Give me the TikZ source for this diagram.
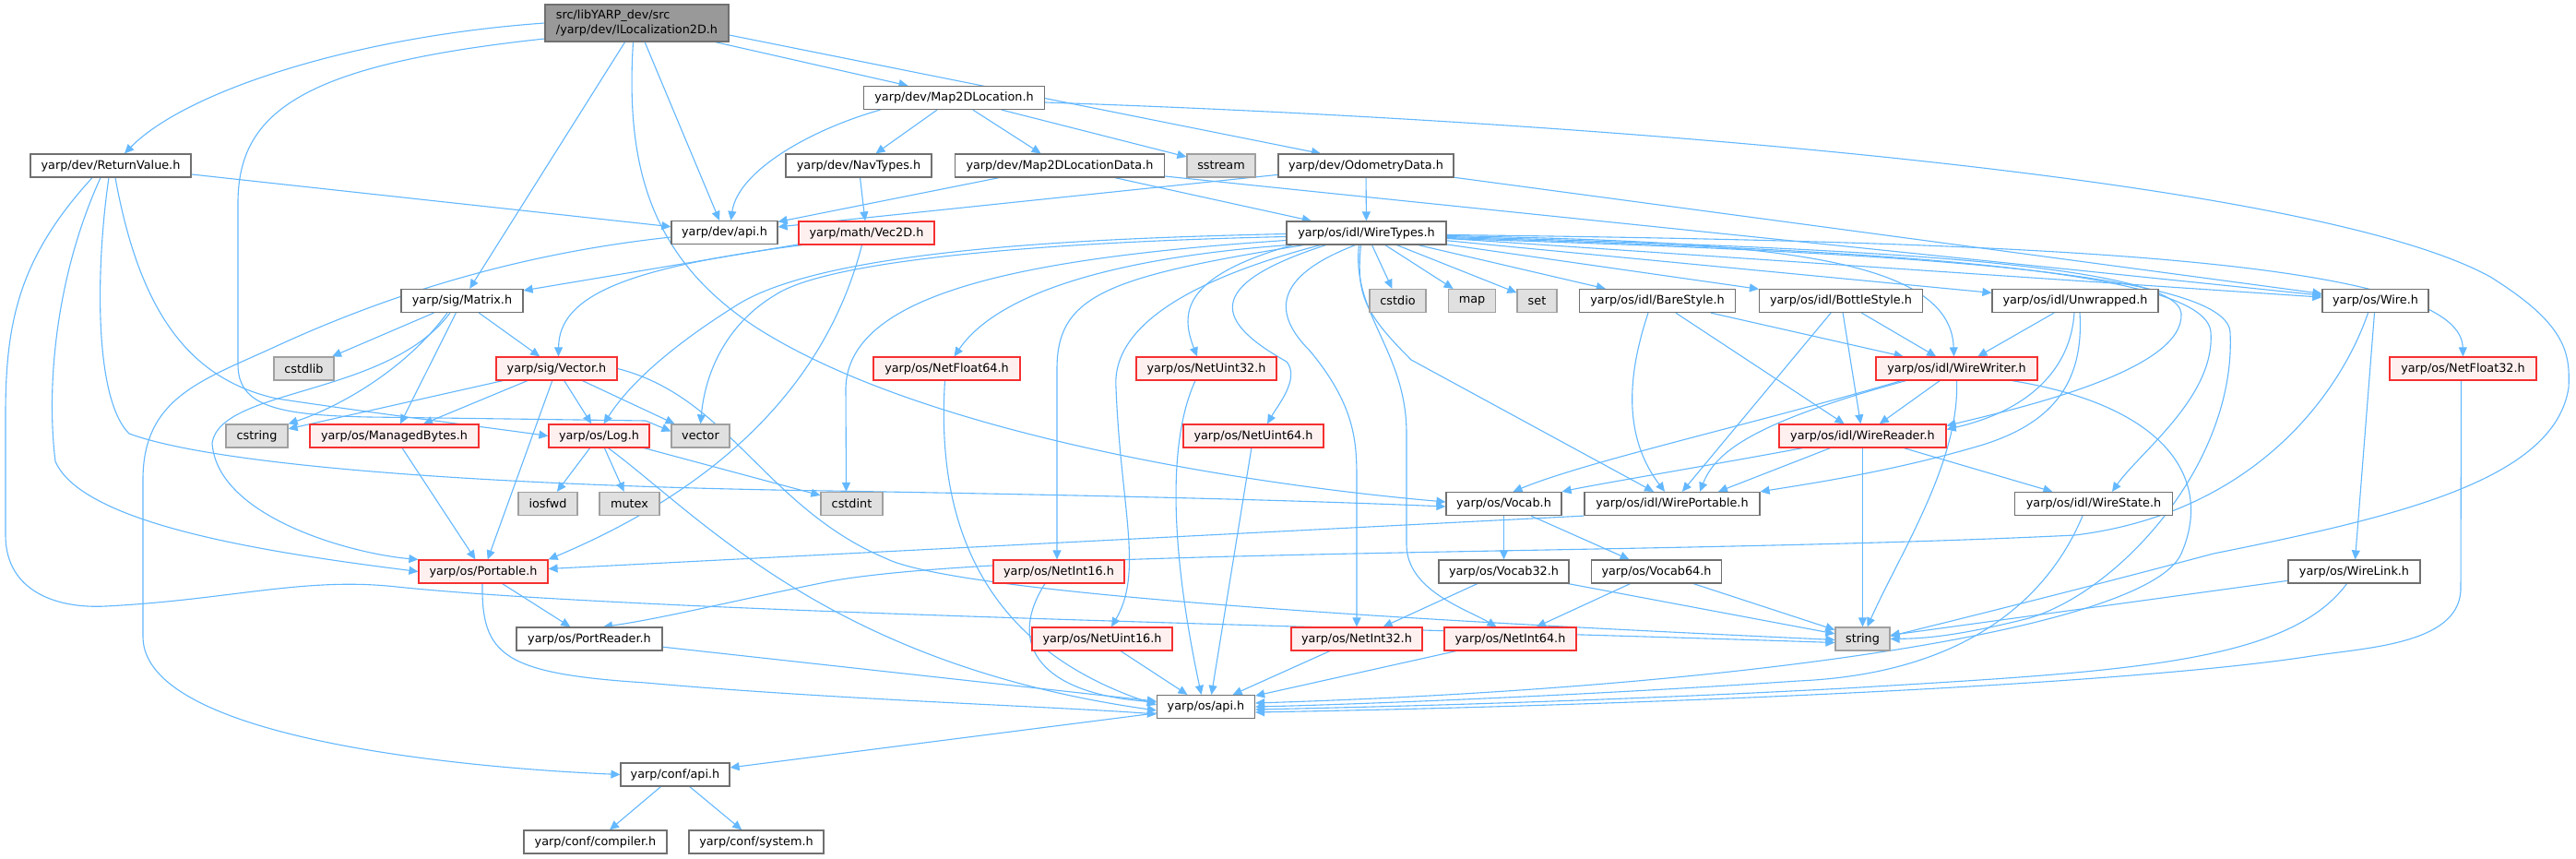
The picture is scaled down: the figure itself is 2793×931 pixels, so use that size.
\documentclass[tikz,border=0pt]{standalone}
\usepackage{fontspec}
\setmainfont{DejaVu Sans}
\usetikzlibrary{arrows.meta,calc}
\definecolor{edgec}{HTML}{63B8FF}
\definecolor{boxborder}{HTML}{707070}
\definecolor{redborder}{HTML}{F53030}
\definecolor{redfill}{HTML}{FFF0F0}
\definecolor{greyborder}{HTML}{A0A0A0}
\definecolor{greyfill}{HTML}{E0E0E0}
\definecolor{topfill}{HTML}{999999}
\pgfdeclarelayer{bg}
\pgfdeclarelayer{paper}
\pgfsetlayers{paper,bg,main}
\tikzset{
  box/.style={draw=boxborder, fill=white, line width=1.2pt, minimum height=25pt, inner sep=0pt, text=black},
  redbox/.style={box, draw=redborder, fill=redfill},
  greybox/.style={box, draw=greyborder, fill=greyfill},
  topbox/.style={box, draw=boxborder, fill=topfill},
  edg/.style={draw=edgec, line width=1.1pt, -{Triangle[length=10pt,width=9pt]}},
}
\begin{document}
\begin{tikzpicture}[x=1pt,y=-1pt, every node/.style={font=\fontsize{12.8}{16}\selectfont}]
\begin{pgfonlayer}{paper}
\fill[white] (0,0) rectangle (2793,931);
\end{pgfonlayer}
\useasboundingbox (0,0) rectangle (2793,931);

% ---------------- nodes ----------------
\node[topbox, minimum width=199pt, minimum height=40pt, align=left] (ntop) at (690.5,25) {src/libYARP\_dev/src\\/yarp/dev/ILocalization2D.h};
\node[box, minimum width=174pt] (nretval) at (120,179.5) {yarp/dev/ReturnValue.h};
\node[box, minimum width=115pt] (ndevapi) at (785.5,252) {yarp/dev/api.h};
\node[box, minimum width=196pt] (nm2dloc) at (1034.5,106) {yarp/dev/Map2DLocation.h};
\node[box, minimum width=158pt] (nnav) at (931,179.5) {yarp/dev/NavTypes.h};
\node[box, minimum width=227pt] (nm2dlocdata) at (1149,179.5) {yarp/dev/Map2DLocationData.h};
\node[greybox, minimum width=74pt] (nsstream) at (1324,179.5) {sstream};
\node[box, minimum width=190pt] (nodom) at (1481,179.5) {yarp/dev/OdometryData.h};
\node[redbox, minimum width=147pt] (nvec) at (939.5,252.5) {yarp/math/Vec2D.h};
\node[box, minimum width=173pt] (nwt) at (1481.5,252.5) {yarp/os/idl/WireTypes.h};
\node[box, minimum width=132pt] (nmatrix) at (501,326) {yarp/sig/Matrix.h};
\node[greybox, minimum width=65pt] (ncstdlib) at (329.5,399.5) {cstdlib};
\node[redbox, minimum width=131pt] (nvector_h) at (603.5,399.5) {yarp/sig/Vector.h};
\node[greybox, minimum width=67pt] (ncstring) at (278.5,472.5) {cstring};
\node[redbox, minimum width=183pt] (nmanaged) at (427.5,472.5) {yarp/os/ManagedBytes.h};
\node[redbox, minimum width=109pt] (nlog) at (649.5,472.5) {yarp/os/Log.h};
\node[greybox, minimum width=63pt] (nvector) at (759.5,472.5) {vector};
\node[greybox, minimum width=64pt] (niosfwd) at (594,546) {iosfwd};
\node[greybox, minimum width=65pt] (nmutex) at (682.5,546) {mutex};
\node[greybox, minimum width=67pt] (ncstdint) at (923.5,546) {cstdint};
\node[redbox, minimum width=140pt] (nportable) at (524,619.5) {yarp/os/Portable.h};
\node[box, minimum width=158pt] (nportreader) at (639,692.5) {yarp/os/PortReader.h};
\node[box, minimum width=118pt] (nconfapi) at (732,839.5) {yarp/conf/api.h};
\node[box, minimum width=155pt] (ncompiler) at (645.5,912.5) {yarp/conf/compiler.h};
\node[box, minimum width=146pt] (nsystem) at (820,912.5) {yarp/conf/system.h};
\node[greybox, minimum width=61pt] (ncstdio) at (1515.5,326) {cstdio};
\node[greybox, minimum width=51pt] (nmap) at (1596,326) {map};
\node[greybox, minimum width=43pt] (nset) at (1666.5,326) {set};
\node[box, minimum width=169pt] (nbare) at (1797,326) {yarp/os/idl/BareStyle.h};
\node[box, minimum width=177pt] (nbottle) at (1996,326) {yarp/os/idl/BottleStyle.h};
\node[box, minimum width=180pt] (nunwrapped) at (2250,326) {yarp/os/idl/Unwrapped.h};
\node[box, minimum width=115pt] (nwire) at (2575.5,326) {yarp/os/Wire.h};
\node[redbox, minimum width=175pt] (nwirewriter) at (2121.5,399.5) {yarp/os/idl/WireWriter.h};
\node[redbox, minimum width=159pt] (nnf32) at (2670.5,399.5) {yarp/os/NetFloat32.h};
\node[redbox, minimum width=181pt] (nwirereader) at (2019.5,472.5) {yarp/os/idl/WireReader.h};
\node[box, minimum width=171pt] (nwirestate) at (2270,546) {yarp/os/idl/WireState.h};
\node[box, minimum width=143pt] (nwirelink) at (2552.5,619.5) {yarp/os/WireLink.h};
\node[greybox, minimum width=59pt] (nstring) at (2019.5,692.5) {string};
\node[redbox, minimum width=159pt] (nnf64) at (1026.5,399.5) {yarp/os/NetFloat64.h};
\node[redbox, minimum width=152pt] (nnetuint32) at (1308,399.5) {yarp/os/NetUint32.h};
\node[redbox, minimum width=152pt] (nnetuint64) at (1359,472.5) {yarp/os/NetUint64.h};
\node[box, minimum width=125pt] (nvocab) at (1630.5,546) {yarp/os/Vocab.h};
\node[box, minimum width=190pt] (nwireportable) at (1813,546) {yarp/os/idl/WirePortable.h};
\node[redbox, minimum width=142pt] (nnetint16) at (1148,619.5) {yarp/os/NetInt16.h};
\node[box, minimum width=141pt] (nvocab32) at (1630.5,619.5) {yarp/os/Vocab32.h};
\node[box, minimum width=141pt] (nvocab64) at (1796,619.5) {yarp/os/Vocab64.h};
\node[redbox, minimum width=152pt] (nnetuint16) at (1195,692.5) {yarp/os/NetUint16.h};
\node[redbox, minimum width=142pt] (nnetint32) at (1471,692.5) {yarp/os/NetInt32.h};
\node[redbox, minimum width=143pt] (nnetint64) at (1637.5,692.5) {yarp/os/NetInt64.h};
\node[box, minimum width=106pt] (nosapi) at (1307.5,766) {yarp/os/api.h};

% ---------------- edges ----------------
\begin{pgfonlayer}{bg}
% ILocalization2D
\draw[edg] (ntop.west) .. controls (380,40) and (200,100) .. ([xshift=15pt]nretval.north);
\draw[edg] ([yshift=-17pt]ntop.west) .. controls (330,70) and (258,120) .. (258,220) -- (258,395) .. controls (258,440) and (300,450) .. (400,452) -- (700,456) -- ([yshift=5pt]nvector.west);
\draw[edg] (ntop) -- (nmatrix);
\draw[edg] ([xshift=-4pt]ntop.south) .. controls (678,180) and (705,280) .. (820,355) .. controls (1000,470) and (1350,525) .. ([yshift=2pt]nvocab.west);
\draw[edg] (ntop) -- (ndevapi);
\draw[edg] ([xshift=-15pt]ntop.south east) -- ([xshift=-50pt]nm2dloc.north);
\draw[edg] ([yshift=-13pt]ntop.east) -- ([xshift=-49pt]nodom.north);

% ReturnValue
\draw[edg] (nretval) -- (ndevapi);
\draw[edg] ([xshift=5pt]nretval.south) .. controls (150,330) and (200,410) .. (300,432) .. controls (420,450) and (520,462) .. (nlog.west);
\draw[edg] ([xshift=-2pt]nretval.south) .. controls (105,280) and (100,430) .. (140,470) .. controls (250,510) and (600,528) .. (900,532) .. controls (1200,537) and (1400,542) .. ([yshift=-3pt]nvocab.west);
\draw[edg] ([xshift=-11pt]nretval.south) .. controls (60,300) and (50,420) .. (60,500) .. controls (90,570) and (300,600) .. (nportable.west);
\draw[edg] ([xshift=-20pt]nretval.south) .. controls (20,280) and (6,350) .. (6,450) -- (6,580) .. controls (6,640) and (60,660) .. (115,657) .. controls (250,650) and (330,625) .. (430,636) .. controls (700,664) and (1500,680) .. ([yshift=-4pt]nstring.west);

% dev/api.h
\draw[edg] ([yshift=-5pt]ndevapi.west) .. controls (560,275) and (420,320) .. (300,375) .. controls (220,412) and (155,430) .. (155,520) -- (155,690) .. controls (155,800) and (500,832) .. (nconfapi.west);

% Map2DLocation
\draw[edg] ([xshift=-80pt]nm2dloc.south) .. controls (880,140) and (800,185) .. ([xshift=7pt]ndevapi.north);
\draw[edg] (nm2dloc) -- (nnav);
\draw[edg] (nm2dloc) -- (nm2dlocdata);
\draw[edg] (nm2dloc) -- (nsstream);
\draw[edg] ([yshift=-5pt]nm2dloc.east) .. controls (1700,130) and (2500,190) .. (2700,300) .. controls (2780,350) and (2787,380) .. (2785,420) .. controls (2770,520) and (2600,560) .. (2400,600) .. controls (2250,640) and (2120,672) .. ([yshift=3pt]nstring.east);

% NavTypes
\draw[edg] (nnav) -- (nvec);

% Map2DLocationData
\draw[edg] (nm2dlocdata) -- (ndevapi);
\draw[edg] (nm2dlocdata) -- (nwt);
\draw[edg] (nm2dlocdata) -- (nwire);

% OdometryData
\draw[edg] (nodom) -- (ndevapi);
\draw[edg] (nodom) -- (nwt);
\draw[edg] (nodom) -- (nwire);

% Vec2D
\draw[edg] (nvec) -- (nmatrix);
\draw[edg] ([xshift=-70pt]nvec.south) .. controls (680,290) and (606,320) .. ([xshift=2pt]nvector_h.north);
\draw[edg] ([xshift=-5pt]nvec.south) .. controls (900,400) and (800,520) .. (nportable.north east);

% WireTypes
\draw[edg] (nwt) -- (ncstdio);
\draw[edg] (nwt) -- (nmap);
\draw[edg] (nwt) -- (nset);
\draw[edg] (nwt) -- (nbare);
\draw[edg] (nwt) -- (nbottle);
\draw[edg] (nwt) -- (nunwrapped);
\draw[edg] (nwt) -- (nwire);
\draw[edg] ([yshift=-3pt]nwt.east) .. controls (1900,262) and (2115,275) .. ([xshift=-3pt]nwirewriter.north);
\draw[edg] ([yshift=-4pt]nwt.east) .. controls (2000,268) and (2362,285) .. (2365,340) .. controls (2368,400) and (2200,440) .. ([yshift=-2pt]nwirereader.north east);
\draw[edg] ([yshift=-5pt]nwt.east) .. controls (2000,270) and (2392,288) .. (2397,360) .. controls (2402,430) and (2320,490) .. ([xshift=20pt]nwirestate.north);
\draw[edg] ([yshift=-6pt]nwt.east) .. controls (2000,272) and (2414,290) .. (2418,360) .. controls (2425,500) and (2300,640) .. (2200,670) .. controls (2120,690) and (2085,692) .. (nstring.east);
\draw[edg] ([yshift=-2pt]nwt.east) .. controls (2200,262) and (2668,280) .. (nnf32.north);
\draw[edg] ([xshift=-6pt]nwt.south) .. controls (1470,320) and (1480,340) .. (1530,390) -- ([xshift=-20pt]nwireportable.north);
\draw[edg] ([xshift=-8pt]nwt.south) .. controls (1465,340) and (1525,380) .. (1525,470) -- (1525,590) .. controls (1525,640) and (1590,660) .. ([xshift=-15pt]nnetint64.north);
\draw[edg] ([xshift=-12pt]nwt.south) .. controls (1380,300) and (1380,340) .. (1420,380) .. controls (1470,440) and (1471,480) .. (1471,520) -- (nnetint32.north);
\draw[edg] ([xshift=-44pt]nwt.south) .. controls (1300,310) and (1320,350) .. (1395,392) .. controls (1410,410) and (1385,440) .. ([xshift=15pt]nnetuint64.north);
\draw[edg] ([xshift=-80pt]nwt.south) .. controls (1280,300) and (1280,340) .. ([xshift=-10pt]nnetuint32.north);
\draw[edg] ([xshift=-50pt]nwt.south) .. controls (1300,300) and (1205,350) .. (1210,420) .. controls (1215,550) and (1240,620) .. ([xshift=10pt]nnetuint16.north);
\draw[edg] ([xshift=-68pt]nwt.south) .. controls (1200,300) and (1146,320) .. (1146,400) -- ([xshift=-2pt]nnetint16.north);
\draw[edg] ([xshift=-85pt]nwt.south) .. controls (1200,280) and (1080,320) .. ([xshift=8pt]nnf64.north);
\draw[edg] ([yshift=-8pt]nwt.west) .. controls (1100,280) and (920,320) .. (917,420) -- ([xshift=-6pt]ncstdint.north);
\draw[edg] ([yshift=-1pt]nwt.west) .. controls (1200,258) and (900,268) .. (800,330) .. controls (720,380) and (680,420) .. ([xshift=5pt]nlog.north);
\draw[edg] ([yshift=-4pt]nwt.west) .. controls (1150,262) and (900,280) .. (840,320) .. controls (790,350) and (765,400) .. (nvector.north);

% BareStyle
\draw[edg] ([xshift=-10pt]nbare.south) .. controls (1760,420) and (1765,480) .. ([xshift=-8pt]nwireportable.north);
\draw[edg] (nbare) -- (nwirereader);
\draw[edg] (nbare) -- (nwirewriter);

% BottleStyle
\draw[edg] (nbottle) -- (nwireportable);
\draw[edg] (nbottle) -- (nwirereader);
\draw[edg] (nbottle) -- (nwirewriter);

% Unwrapped
\draw[edg] (nunwrapped) -- (nwirewriter);
\draw[edg] ([xshift=-1pt]nunwrapped.south) .. controls (2245,400) and (2200,445) .. ([yshift=-6pt]nwirereader.north east);
\draw[edg] ([xshift=5pt]nunwrapped.south) .. controls (2260,420) and (2220,460) .. (2150,482) .. controls (2050,512) and (1950,526) .. (nwireportable.north east);

% Wire.h
\draw[edg] (nwire) -- (nwirelink);
\draw[edg] ([xshift=-8pt]nwire.south) .. controls (2540,420) and (2450,555) .. (2250,580) .. controls (1800,602) and (1100,594) .. (900,630) .. controls (800,650) and (720,670) .. ([xshift=15pt]nportreader.north);

% WireWriter
\draw[edg] (nwirewriter) -- (nwirereader);
\draw[edg] ([xshift=-60pt]nwirewriter.south) .. controls (1900,460) and (1720,500) .. ([xshift=10pt]nvocab.north);
\draw[edg] ([xshift=-55pt]nwirewriter.south) .. controls (1900,458) and (1860,490) .. ([xshift=30pt]nwireportable.north);
\draw[edg] (nwirewriter.south) .. controls (2125,500) and (2060,600) .. ([xshift=5pt]nstring.north);
\draw[edg] ([xshift=60pt]nwirewriter.south) .. controls (2350,440) and (2400,520) .. (2365,600) .. controls (2330,680) and (1900,745) .. ([yshift=4pt]nosapi.east);

% WireReader
\draw[edg] ([xshift=-65pt]nwirereader.south) .. controls (1850,505) and (1730,525) .. (nvocab.north east);
\draw[edg] ([xshift=-35pt]nwirereader.south) -- ([xshift=50pt]nwireportable.north);
\draw[edg] (nwirereader) -- (nstring);
\draw[edg] (nwirereader) -- (nwirestate);

% WireState
\draw[edg] ([xshift=-12pt]nwirestate.south) .. controls (2220,650) and (2130,730) .. (1950,738) .. controls (1700,755) and (1450,764) .. (nosapi.east);

% WireLink
\draw[edg] (nwirelink) -- (nstring);
\draw[edg] ([xshift=-8pt]nwirelink.south) .. controls (2480,720) and (2300,728) .. (2000,746) .. controls (1700,762) and (1450,767) .. ([yshift=-3pt]nosapi.east);

% NetFloat32
\draw[edg] ([xshift=-2pt]nnf32.south) -- (2668,640) .. controls (2665,700) and (2560,702) .. (2500,712) .. controls (2300,742) and (1800,764) .. ([yshift=-6pt]nosapi.east);

% Vocab
\draw[edg] (nvocab) -- (nvocab32);
\draw[edg] (nvocab) -- (nvocab64);
\draw[edg] (nvocab32) -- (nnetint32);
\draw[edg] (nvocab32) -- (nstring);
\draw[edg] (nvocab64) -- (nnetint64);
\draw[edg] (nvocab64) -- (nstring);

% WirePortable
\draw[edg] (nwireportable.south west) -- ([yshift=3pt]nportable.east);

% Log
\draw[edg] (nlog) -- (niosfwd);
\draw[edg] (nlog) -- (nmutex);
\draw[edg] (nlog) -- (ncstdint);
\draw[edg] ([xshift=10pt]nlog.south) .. controls (760,560) and (900,720) .. ([yshift=-4pt]nosapi.west);

% ManagedBytes
\draw[edg] (nmanaged) -- (nportable);

% Vector.h
\draw[edg] (nvector_h) -- (ncstring);
\draw[edg] (nvector_h) -- (nmanaged);
\draw[edg] (nvector_h) -- (nportable);
\draw[edg] (nvector_h) -- (nlog);
\draw[edg] (nvector_h) -- (nvector);
\draw[edg] (nvector_h.east) .. controls (790,430) and (830,550) .. (960,605) .. controls (1050,650) and (1700,680) .. ([yshift=-1pt]nstring.west);

% Matrix.h
\draw[edg] (nmatrix) -- (ncstdlib);
\draw[edg] ([xshift=-16pt]nmatrix.south) .. controls (440,400) and (370,440) .. (ncstring.north east);
\draw[edg] (nmatrix) -- (nmanaged);
\draw[edg] (nmatrix) -- (nvector_h);
\draw[edg] ([xshift=-13pt]nmatrix.south) .. controls (420,430) and (240,420) .. (230,480) .. controls (235,560) and (380,600) .. (nportable.north west);

% Portable.h
\draw[edg] (nportable) -- (nportreader);
\draw[edg] ([xshift=-1pt]nportable.south) .. controls (522,710) and (545,730) .. (700,740) .. controls (900,758) and (1150,766) .. ([yshift=-8pt]nosapi.west);

% PortReader
\draw[edg] (nportreader) -- (nosapi);

% Net* -> os/api.h
\draw[edg] ([xshift=-2pt]nnf64.south) .. controls (1015,560) and (1060,700) .. ([yshift=2pt]nosapi.west);
\draw[edg] ([xshift=-12pt]nnetuint32.south) .. controls (1265,480) and (1270,600) .. ([xshift=-5pt]nosapi.north);
\draw[edg] (nnetuint64) -- ([xshift=6pt]nosapi.north);
\draw[edg] ([xshift=-15pt]nnetint16.south) .. controls (1090,700) and (1130,752) .. ([yshift=5pt]nosapi.west);
\draw[edg] (nnetuint16) -- (nosapi);
\draw[edg] (nnetint32) -- (nosapi);
\draw[edg] (nnetint64) -- (nosapi);

% os/api.h and conf
\draw[edg] (nosapi) -- (nconfapi);
\draw[edg] (nconfapi) -- (ncompiler);
\draw[edg] (nconfapi) -- (nsystem);
\end{pgfonlayer}
\end{tikzpicture}
\end{document}
